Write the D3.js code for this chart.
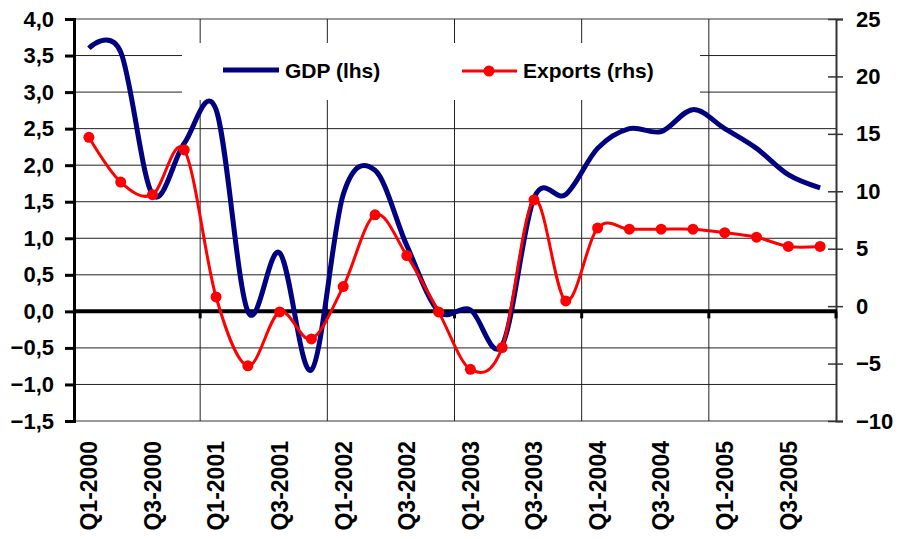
<!DOCTYPE html>
<html>
<head>
<meta charset="utf-8">
<script src="https://cdn.jsdelivr.net/npm/d3@7"></script>
<style>
  body { margin: 0; background: #fff; }
  text { font-family: "Liberation Sans", Arial, sans-serif; font-weight: bold; fill: #000; }
</style>
</head>
<body>
<script>
var quarters = ['Q1-2000', 'Q2-2000', 'Q3-2000', 'Q4-2000',
    'Q1-2001', 'Q2-2001', 'Q3-2001', 'Q4-2001',
    'Q1-2002', 'Q2-2002', 'Q3-2002', 'Q4-2002',
    'Q1-2003', 'Q2-2003', 'Q3-2003', 'Q4-2003',
    'Q1-2004', 'Q2-2004', 'Q3-2004', 'Q4-2004',
    'Q1-2005', 'Q2-2005', 'Q3-2005', 'Q4-2005'];
var gdp = [3.6, 3.55, 1.6, 2.3, 2.76, 0.0, 0.8, -0.8, 1.6, 1.93, 0.9, 0.0,
    0.02, -0.46, 1.55, 1.6, 2.23, 2.5, 2.46, 2.76, 2.5, 2.23, 1.87, 1.69];
var exportsRhs = [14.7, 10.8, 9.7, 13.6, 0.8, -5.2, -0.5, -2.85, 1.7, 7.95, 4.4, -0.5,
    -5.5, -3.6, 9.25, 0.45, 6.8, 6.7, 6.7, 6.7, 6.4, 6.0, 5.2, 5.2];
var leftTicks = [-1.5, -1.0, -0.5, 0.0, 0.5, 1.0, 1.5, 2.0, 2.5, 3.0, 3.5, 4.0];
var rightTicks = [-10, -5, 0, 5, 10, 15, 20, 25];
var yearStarts = ['Q1-2001', 'Q1-2002', 'Q1-2003', 'Q1-2004', 'Q1-2005'];

var width = 901, height = 539;
var plotLeft = 73, plotRight = 836, plotTop = 19, plotBottom = 421;
var svg, x, yL, yR;

window.document.addEventListener('DOMContentLoaded', init, false);

function init() {
    svg = d3.select('body').append('svg')
        .attr('width', width)
        .attr('height', height);

    x = d3.scaleBand().domain(quarters).range([plotLeft, plotRight]);
    yL = d3.scaleLinear().domain([-1.5, 4]).range([plotBottom, plotTop]);
    yR = d3.scaleLinear().domain([-10, 25]).range([plotBottom, plotTop]);

    drawGrid();
    drawLegend();
    drawAxes();
    drawSeries();
}

function fmt(v) {
    return d3.format('.1f')(v).replace('.', ',');
}

function drawGrid() {
    svg.append('g').selectAll('line')
        .data(leftTicks)
        .enter().append('line')
        .attr('x1', plotLeft).attr('x2', plotRight)
        .attr('y1', function (d) { return yL(d); })
        .attr('y2', function (d) { return yL(d); })
        .attr('stroke', function (d) { return (d === 4 || d === -1.5) ? '#999' : '#222'; })
        .attr('stroke-width', function (d) { return (d === 4 || d === -1.5) ? 2 : 1; });

    svg.append('g').selectAll('line')
        .data(yearStarts)
        .enter().append('line')
        .attr('x1', function (d) { return x(d); })
        .attr('x2', function (d) { return x(d); })
        .attr('y1', plotTop).attr('y2', plotBottom)
        .attr('stroke', '#222')
        .attr('stroke-width', 1);
}

function drawLegend() {
    var g = svg.append('g');
    g.append('rect')
        .attr('x', 182).attr('y', 43)
        .attr('width', 518).attr('height', 57)
        .attr('fill', '#fff');

    g.append('line')
        .attr('x1', 223).attr('x2', 279).attr('y1', 70).attr('y2', 70)
        .attr('stroke', '#000080').attr('stroke-width', 5);
    g.append('text')
        .attr('x', 285).attr('y', 78)
        .style('font-size', '21px')
        .text('GDP (lhs)');

    g.append('line')
        .attr('x1', 462).attr('x2', 517).attr('y1', 71).attr('y2', 71)
        .attr('stroke', '#ff0000').attr('stroke-width', 3);
    g.append('circle')
        .attr('cx', 489).attr('cy', 71).attr('r', 5.5)
        .attr('fill', '#ff0000');
    g.append('text')
        .attr('x', 523).attr('y', 78)
        .style('font-size', '21px')
        .text('Exports (rhs)');
}

function drawAxes() {
    // left axis
    var la = svg.append('g')
        .attr('transform', 'translate(' + (plotLeft + 1) + ',0)')
        .call(d3.axisLeft(yL).tickValues(leftTicks).tickSize(9).tickPadding(11).tickFormat(fmt));
    la.select('.domain').attr('stroke', '#000').attr('stroke-width', 3);
    la.selectAll('.tick line').attr('stroke', '#000').attr('stroke-width', 3);
    la.selectAll('text').style('font-size', '22px').attr('font-family', null);

    // right axis
    var ra = svg.append('g')
        .attr('transform', 'translate(' + plotRight + ',0)')
        .call(d3.axisRight(yR).tickValues(rightTicks).tickSize(7).tickPadding(13).tickFormat(d3.format('d')));
    ra.select('.domain').attr('stroke', '#333').attr('stroke-width', 2);
    ra.selectAll('.tick line').attr('stroke', '#333').attr('stroke-width', 1.5).attr('x1', -8);
    ra.selectAll('text').style('font-size', '22px').attr('font-family', null);

    // zero line
    svg.append('line')
        .attr('x1', plotLeft).attr('x2', plotRight + 1)
        .attr('y1', yL(0)).attr('y2', yL(0))
        .attr('stroke', '#000').attr('stroke-width', 4);
    svg.append('g').selectAll('line')
        .data(yearStarts.concat(['end']))
        .enter().append('line')
        .attr('x1', function (d) { return d === 'end' ? plotRight : x(d); })
        .attr('x2', function (d) { return d === 'end' ? plotRight : x(d); })
        .attr('y1', yL(0)).attr('y2', yL(0) + 7)
        .attr('stroke', '#000').attr('stroke-width', 3);

    // category labels at the bottom
    svg.append('g').selectAll('text')
        .data(quarters.filter(function (d, i) { return i % 2 === 0; }))
        .enter().append('text')
        .attr('transform', function (d) {
            return 'translate(' + (x(d) + x.bandwidth() / 2) + ',441) rotate(-90)';
        })
        .attr('text-anchor', 'end')
        .attr('dy', '0.36em')
        .style('font-size', '23px')
        .text(function (d) { return d; });
}

function drawSeries() {
    var cx = function (d, i) { return x(quarters[i]) + x.bandwidth() / 2; };

    var gdpLine = d3.line()
        .x(cx)
        .y(function (d) { return yL(d); })
        .curve(d3.curveCardinal.tension(0));
    svg.append('path')
        .datum(gdp)
        .attr('d', gdpLine)
        .attr('fill', 'none')
        .attr('stroke', '#000080')
        .attr('stroke-width', 5)
        .attr('stroke-linejoin', 'round');

    var expLine = d3.line()
        .x(cx)
        .y(function (d) { return yR(d); })
        .curve(d3.curveCardinal.tension(0));
    svg.append('path')
        .datum(exportsRhs)
        .attr('d', expLine)
        .attr('fill', 'none')
        .attr('stroke', '#ff0000')
        .attr('stroke-width', 3);

    svg.append('g').selectAll('circle')
        .data(exportsRhs)
        .enter().append('circle')
        .attr('cx', cx)
        .attr('cy', function (d) { return yR(d); })
        .attr('r', 5.5)
        .attr('fill', '#ff0000');
}
</script>
</body>
</html>
